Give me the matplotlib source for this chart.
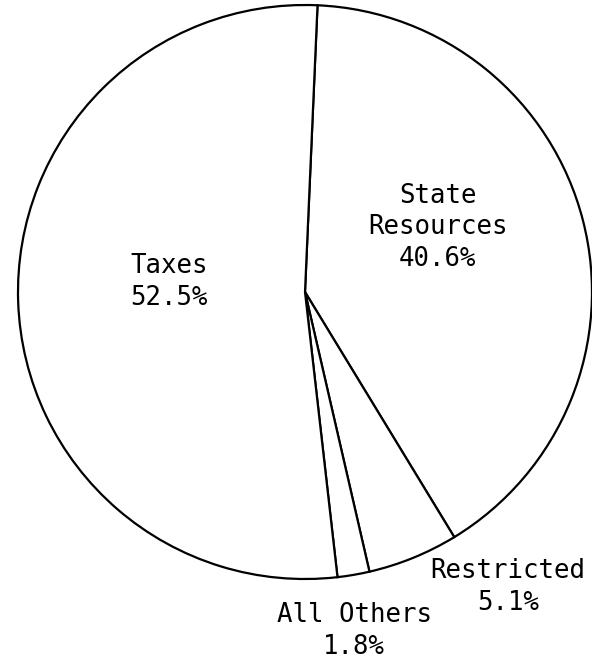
import matplotlib
matplotlib.use("Agg")
import matplotlib.pyplot as plt

# Revenue shares, clockwise from the top
categories = ["State\nResources", "Restricted", "All Others", "Taxes"]
shares = [40.6, 5.1, 1.8, 52.5]

# label centres in pie units (radius = 1)
label_pos = [(0.463, 0.226), (0.707, -1.028), (0.171, -1.181), (-0.474, 0.035)]

W, H = 592, 662
fig = plt.figure(figsize=(W / 100, H / 100), dpi=100)
fig.patch.set_facecolor("white")

# pie centre at (305, 292) px from top-left, radius 287 px
cx, cy, r = 305, 292, 287
ax = fig.add_axes([(cx - r) / W, (H - cy - r) / H, 2 * r / W, 2 * r / H])

wedges, _ = ax.pie(
    shares,
    startangle=87.5,
    counterclock=False,
    radius=1.0,
    colors=["white"] * len(shares),
    wedgeprops=dict(edgecolor="black", linewidth=1.6),
)

for name, val, (x, y) in zip(categories, shares, label_pos):
    ax.text(x, y, f"{name}\n{val:.1f}%", ha="center", va="center",
            multialignment="center", family="DejaVu Sans Mono",
            fontsize=18.5, linespacing=1.28, color="black", clip_on=False)

ax.set_xlim(-1, 1)
ax.set_ylim(-1, 1)
ax.set_aspect("equal")
ax.axis("off")

fig.savefig("out.png", dpi=100, facecolor="white")
